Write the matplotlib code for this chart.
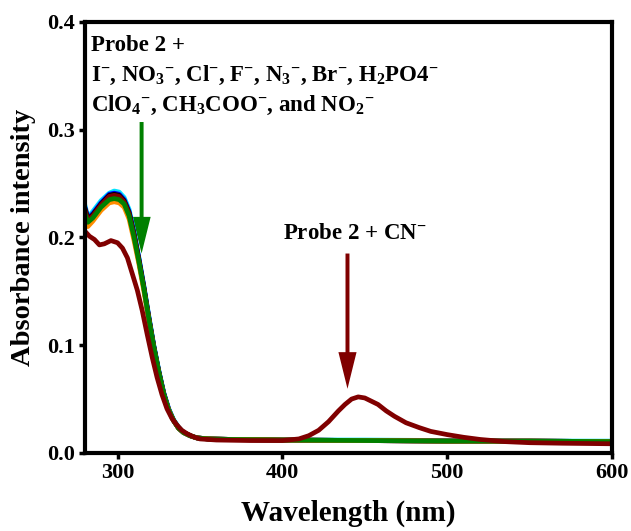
import matplotlib
matplotlib.use("Agg")
import matplotlib.pyplot as plt

plt.rcParams['font.family'] = ['Liberation Serif', 'DejaVu Serif']
plt.rcParams['font.weight'] = 'bold'
plt.rcParams['mathtext.fontset'] = 'custom'
plt.rcParams['mathtext.rm'] = 'Liberation Serif:bold'
plt.rcParams['mathtext.it'] = 'Liberation Serif:bold'
plt.rcParams['mathtext.bf'] = 'Liberation Serif:bold'

# ---- data ----
wl = [280, 282, 285, 290, 295, 298, 301, 304, 307, 310, 313, 316, 319, 322, 325,
      328, 331, 334, 337, 340, 344, 348, 355, 370, 400, 450, 500, 550, 600]

abs_cyan = [0.231, 0.219, 0.224, 0.234, 0.241, 0.243, 0.242, 0.237, 0.226, 0.205, 0.181,
            0.155, 0.127, 0.100, 0.077, 0.056, 0.041, 0.031, 0.024, 0.019, 0.016, 0.014,
            0.013, 0.0125, 0.012, 0.012, 0.0115, 0.011, 0.011]
abs_blue = [0.229, 0.218, 0.222, 0.232, 0.240, 0.241, 0.240, 0.235, 0.224, 0.204, 0.180,
            0.154, 0.126, 0.099, 0.076, 0.056, 0.041, 0.030, 0.023, 0.019, 0.016, 0.014,
            0.013, 0.0125, 0.012, 0.0115, 0.011, 0.011, 0.0105]
abs_black = [0.228, 0.217, 0.221, 0.231, 0.239, 0.240, 0.239, 0.234, 0.223, 0.203, 0.179,
             0.153, 0.125, 0.099, 0.076, 0.055, 0.040, 0.030, 0.023, 0.019, 0.016, 0.014,
             0.013, 0.0125, 0.012, 0.0115, 0.011, 0.011, 0.0105]
abs_wine = [0.227, 0.216, 0.220, 0.230, 0.238, 0.239, 0.238, 0.233, 0.222, 0.202, 0.178,
            0.153, 0.125, 0.098, 0.075, 0.055, 0.040, 0.030, 0.023, 0.019, 0.016, 0.014,
            0.013, 0.0125, 0.012, 0.0115, 0.011, 0.011, 0.0105]
abs_orange = [0.220, 0.210, 0.215, 0.225, 0.232, 0.233, 0.232, 0.228, 0.217, 0.197, 0.175,
              0.150, 0.123, 0.097, 0.074, 0.054, 0.040, 0.030, 0.023, 0.019, 0.016, 0.014,
              0.013, 0.0125, 0.012, 0.0115, 0.011, 0.011, 0.0105]
abs_green = [0.223, 0.214, 0.218, 0.228, 0.235, 0.236, 0.235, 0.231, 0.220, 0.200, 0.177,
             0.152, 0.124, 0.098, 0.075, 0.055, 0.040, 0.030, 0.023, 0.019, 0.016, 0.014,
             0.013, 0.0125, 0.012, 0.0115, 0.011, 0.011, 0.0105]

cn_wl = [280, 283, 286, 289, 292, 296, 300, 303, 306, 309, 312, 315, 318, 321, 324, 327,
         330, 333, 336, 339, 342, 346, 350, 360, 380, 400, 410, 416, 422, 428, 434, 438,
         442, 446, 450, 454, 458, 463, 468, 475, 483, 490, 500, 510, 520, 535, 550, 570, 600]
cn_abs = [0.206, 0.201, 0.198, 0.193, 0.194, 0.197, 0.195, 0.190, 0.181, 0.166, 0.151,
          0.132, 0.110, 0.089, 0.070, 0.054, 0.041, 0.032, 0.026, 0.021, 0.018, 0.015,
          0.013, 0.012, 0.0115, 0.0115, 0.013, 0.016, 0.021, 0.029, 0.039, 0.045, 0.050,
          0.052, 0.051, 0.048, 0.045, 0.039, 0.034, 0.028, 0.0235, 0.020, 0.017, 0.0145,
          0.0125, 0.0105, 0.0095, 0.009, 0.0085]

x_ticks = [300, 400, 500, 600]
y_ticks = [0.0, 0.1, 0.2, 0.3, 0.4]

# ---- figure ----
fig = plt.figure(figsize=(6.31, 5.31), dpi=100)
ax = fig.add_axes([0.134, 0.147, 0.836, 0.812])

lw = 3.4
ax.plot(wl, abs_cyan, color='#00e5ff', lw=lw, solid_joinstyle='round')
ax.plot(wl, abs_blue, color='#0000ff', lw=lw, solid_joinstyle='round')
ax.plot(wl, abs_black, color='#000000', lw=lw, solid_joinstyle='round')
ax.plot(wl, abs_wine, color='#800000', lw=lw, solid_joinstyle='round')
ax.plot(wl, abs_orange, color='#ff8c00', lw=lw, solid_joinstyle='round')
ax.plot(wl, abs_green, color='#008000', lw=lw, solid_joinstyle='round')
ax.plot(cn_wl, cn_abs, color='#800000', lw=lw, solid_joinstyle='round')

ax.set_xlim(280, 600)
ax.set_ylim(0.0, 0.4)
ax.set_xticks(x_ticks)
ax.set_yticks(y_ticks)
ax.set_yticklabels(['%.1f' % v for v in y_ticks])

for s in ax.spines.values():
    s.set_linewidth(3.0)
ax.tick_params(direction='out', length=4, width=2.5, labelsize=16, pad=3)

ax.set_xlabel('Wavelength (nm)', fontsize=21, fontweight='bold', labelpad=12)
ax.set_ylabel('Absorbance intensity', fontsize=20.5, fontweight='bold', labelpad=8)

# arrows
ax.arrow(314.6, 0.307, 0, 0.185 - 0.307, width=2.4, head_width=11, head_length=0.034,
         length_includes_head=True, color='#008000', ec='none')
ax.arrow(439.5, 0.185, 0, 0.0595 - 0.185, width=2.4, head_width=11, head_length=0.034,
         length_includes_head=True, color='#800000', ec='none')

# annotations
fs = 16.5
ax.text(284, 0.378, 'Probe 2 +', fontsize=fs, fontweight='bold', va='center', ha='left')
ax.text(284, 0.350,
        r'I$^{-}$, NO$_{3}{}^{-}$, Cl$^{-}$, F$^{-}$, N$_{3}{}^{-}$, Br$^{-}$, H$_{2}$PO4$^{-}$',
        fontsize=fs, fontweight='bold', va='center', ha='left')
ax.text(284, 0.322,
        r'ClO$_{4}{}^{-}$, CH$_{3}$COO$^{-}$, and NO$_{2}{}^{-}$',
        fontsize=fs, fontweight='bold', va='center', ha='left')
ax.text(444, 0.204, r'Probe 2 + CN$^{-}$', fontsize=fs, fontweight='bold',
        va='center', ha='center')

fig.savefig('out.png', dpi=100)
